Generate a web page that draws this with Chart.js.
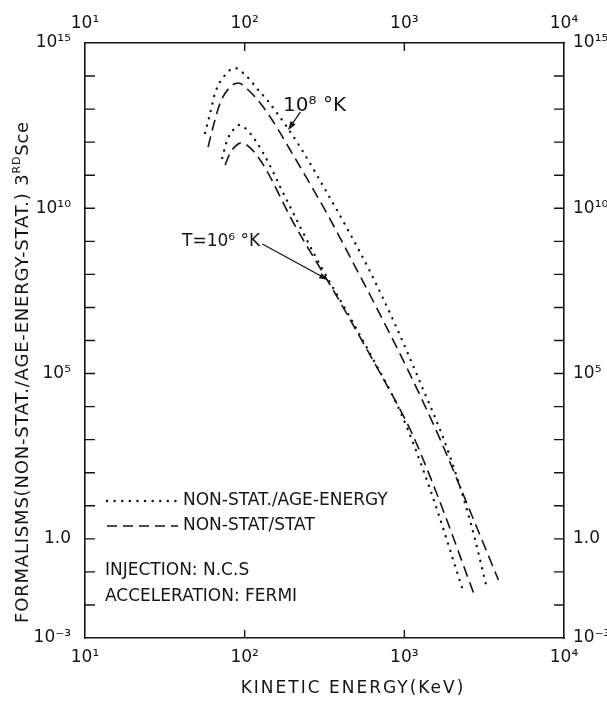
<!DOCTYPE html>
<html>
<head>
<meta charset="utf-8">
<script src="https://cdn.jsdelivr.net/npm/chart.js@4.4.1/dist/chart.umd.min.js"></script>
<style>
  html, body { margin: 0; padding: 0; background: #fff; }
  canvas { display: block; }
</style>
</head>
<body>
<canvas id="chart" width="607" height="702"></canvas>
<script>
const FONT = '"DejaVu Sans", "Liberation Sans", sans-serif';
const INK = '#151515';

// T = 1e8 K, non-stat / age-energy (dotted)
const hotEnergyDotted = [56.5, 60.8, 65.3, 75.4, 87.2, 97.9, 108.3, 121.5, 138.4, 157.6, 182, 222.8, 297.4, 426.7, 612, 878, 1260, 1888, 2594, 3314];
const hotRatioDotted = [1.9e12, 7.6e12, 3.1e13, 1.08e14, 1.75e14, 1.24e14, 7.6e13, 3.8e13, 1.89e13, 8.2e12, 3.1e12, 7.1e11, 6.7e10, 3.1e9, 1.18e8, 2.95e6, 5.2e4, 426, 3.24, 0.028];

// T = 1e8 K, non-stat / stat (dashed)
const hotEnergyDashed = [59, 63.4, 70.2, 81.1, 91, 108.3, 125.1, 144.5, 167, 192.9, 222.8, 329, 478.9, 707.3, 1090, 1682, 2594, 3884];
const hotRatioDashed = [7.1e11, 2.88e12, 1.53e13, 4.67e13, 6.17e13, 3.3e13, 1.53e13, 5.8e12, 1.9e12, 5.8e11, 1.77e11, 6.7e9, 2.21e8, 5.9e6, 9.1e4, 982, 6.5, 0.057];

// T = 1e6 K, non-stat / age-energy (dotted)
const coldEnergyDotted = [72.3, 77.7, 84.7, 92.4, 103.7, 116.4, 130.6, 148.7, 167, 192.9, 222.8, 276.7, 343.6, 426.7, 612, 944, 1455, 2344];
const coldRatioDotted = [3.33e11, 1.16e12, 2.33e12, 3.31e12, 2.33e12, 1.16e12, 4.7e11, 1.44e11, 4.4e10, 1.09e10, 2.72e9, 3.6e8, 5.5e7, 9.0e6, 3.9e5, 6.9e3, 30.1, 0.0248];

// T = 1e6 K, non-stat / stat (dashed)
const coldEnergyDashed = [75.4, 81.1, 91, 96.4, 108.3, 125.1, 144.5, 167, 192.9, 232.7, 289, 364, 458.5, 594.8, 793.6, 1106, 1564, 2787];
const coldRatioDashed = [2.04e11, 4.7e11, 8.8e11, 9.4e11, 6.7e11, 2.9e11, 8.9e10, 2.2e10, 5.5e9, 1.1e9, 1.93e8, 2.94e7, 4.2e6, 4.5e5, 3.7e4, 1.71e3, 30.1, 0.0163];

const xTickValues = [10, 100, 1000, 10000];
const xTickLabels = ['10¹', '10²', '10³', '10⁴'];
const yDecades = [-3, -2, -1, 0, 1, 2, 3, 4, 5, 6, 7, 8, 9, 10, 11, 12, 13, 14, 15];
const yLabelDecades = [15, 10, 5, 0, -3];
const yLabelTexts = ['10¹⁵', '10¹⁰', '10⁵', '1.0', '10⁻³'];

const toPoints = (xs, ys) => xs.map((x, i) => ({ x, y: ys[i] }));

const dotted = { borderDash: [0.1, 7.5], borderCapStyle: 'round', borderWidth: 2.4 };
const dashed = { borderDash: [11, 6], borderCapStyle: 'butt', borderWidth: 1.6 };

const lineSet = (data, style) => Object.assign({
    data,
    borderColor: INK,
    pointRadius: 0,
    fill: false,
    cubicInterpolationMode: 'monotone',
}, style);

const xLabel = (v) => {
    const i = xTickValues.findIndex(t => Math.abs(Math.log10(t) - Math.log10(v)) < 1e-6);
    return i < 0 ? '' : xTickLabels[i];
};
const yLabel = (v) => {
    const i = yLabelDecades.indexOf(Math.round(Math.log10(v)));
    return i < 0 ? '' : yLabelTexts[i];
};

const tickFont = { family: FONT, size: 17 };

const xAxis = (position, height, padding) => ({
    type: 'logarithmic',
    position,
    axis: 'x',
    min: 10,
    max: 10000,
    afterBuildTicks: (s) => { s.ticks = xTickValues.map(value => ({ value })); },
    afterFit: (s) => { s.height = height; },
    ticks: { callback: xLabel, autoSkip: false, maxRotation: 0, color: INK, font: tickFont, padding },
    grid: { drawOnChartArea: false, drawTicks: false },
    border: { color: INK, width: 1.6 },
});

const yAxis = (position, width, padding) => ({
    type: 'logarithmic',
    position,
    axis: 'y',
    min: 1e-3,
    max: 1e15,
    afterBuildTicks: (s) => { s.ticks = yDecades.map(d => ({ value: Math.pow(10, d) })); },
    afterFit: (s) => { s.width = width; },
    ticks: { callback: yLabel, autoSkip: false, color: INK, font: tickFont, padding },
    grid: { drawOnChartArea: false, drawTicks: false },
    border: { color: INK, width: 1.6 },
});

// short tick marks pointing into the frame on all four sides
const innerTicks = {
    id: 'innerTicks',
    afterDraw(chart) {
        const { ctx, chartArea: a, scales } = chart;
        ctx.save();
        ctx.strokeStyle = INK;
        ctx.lineWidth = 1.4;
        ctx.beginPath();
        scales.y.ticks.forEach(t => {
            const p = scales.y.getPixelForValue(t.value);
            if (p <= a.top + 1 || p >= a.bottom - 1) return;
            ctx.moveTo(a.left, p); ctx.lineTo(a.left + 10, p);
            ctx.moveTo(a.right, p); ctx.lineTo(a.right - 10, p);
        });
        scales.x.ticks.forEach(t => {
            const p = scales.x.getPixelForValue(t.value);
            if (p <= a.left + 1 || p >= a.right - 1) return;
            ctx.moveTo(p, a.bottom); ctx.lineTo(p, a.bottom - 8);
            ctx.moveTo(p, a.top); ctx.lineTo(p, a.top + 8);
        });
        ctx.stroke();
        ctx.restore();
    }
};

const arrow = (ctx, x0, y0, x1, y1) => {
    const ang = Math.atan2(y1 - y0, x1 - x0);
    ctx.beginPath();
    ctx.moveTo(x0, y0);
    ctx.lineTo(x1 - 6 * Math.cos(ang), y1 - 6 * Math.sin(ang));
    ctx.stroke();
    ctx.beginPath();
    ctx.moveTo(x1, y1);
    ctx.lineTo(x1 - 9 * Math.cos(ang) + 3 * Math.sin(ang), y1 - 9 * Math.sin(ang) - 3 * Math.cos(ang));
    ctx.lineTo(x1 - 9 * Math.cos(ang) - 3 * Math.sin(ang), y1 - 9 * Math.sin(ang) + 3 * Math.cos(ang));
    ctx.closePath();
    ctx.fill();
};

// labels, arrows, legend and axis titles
const decorations = {
    id: 'decorations',
    afterDraw(chart) {
        const { ctx, chartArea: a, scales: { x, y } } = chart;
        ctx.save();
        ctx.fillStyle = INK;
        ctx.strokeStyle = INK;
        ctx.lineWidth = 1.3;
        ctx.textBaseline = 'middle';

        // temperature labels, anchored in data space
        ctx.font = '20px ' + FONT;
        ctx.textAlign = 'left';
        ctx.fillText('10⁸ °K', x.getPixelForValue(174), y.getPixelForValue(1.3e13));
        arrow(ctx, x.getPixelForValue(223), y.getPixelForValue(8.1e12), x.getPixelForValue(187), y.getPixelForValue(2.3e12));

        ctx.font = '17px ' + FONT;
        ctx.textAlign = 'right';
        ctx.fillText('T=10⁶ °K', x.getPixelForValue(125), y.getPixelForValue(9.5e8));
        arrow(ctx, x.getPixelForValue(129), y.getPixelForValue(8.3e8), x.getPixelForValue(333), y.getPixelForValue(6.8e7));

        // legend block
        ctx.textAlign = 'left';
        ctx.font = '17px ' + FONT;
        const lx0 = a.left + 22, lx1 = a.left + 93, tx = a.left + 98;
        ctx.save();
        ctx.lineWidth = dotted.borderWidth;
        ctx.lineCap = 'round';
        ctx.setLineDash(dotted.borderDash);
        ctx.beginPath(); ctx.moveTo(lx0, 501); ctx.lineTo(lx1, 501); ctx.stroke();
        ctx.lineWidth = dashed.borderWidth;
        ctx.lineCap = 'butt';
        ctx.setLineDash([10, 6]);
        ctx.beginPath(); ctx.moveTo(lx0, 526); ctx.lineTo(lx1, 526); ctx.stroke();
        ctx.restore();
        ctx.fillText('NON-STAT./AGE-ENERGY', tx, 501);
        ctx.fillText('NON-STAT/STAT', tx, 526);
        ctx.fillText('INJECTION: N.C.S', a.left + 20, 571);
        ctx.fillText('ACCELERATION: FERMI', a.left + 20, 597);

        // x axis title
        ctx.font = '17px ' + FONT;
        ctx.textAlign = 'center';
        ctx.letterSpacing = '2px';
        ctx.fillText('KINETIC ENERGY(KeV)', 353, 689);

        // y axis title with superscript RD
        ctx.letterSpacing = '0.8px';
        ctx.translate(23, 372);
        ctx.rotate(-Math.PI / 2);
        ctx.textAlign = 'left';
        const parts = [
            ['FORMALISMS(NON-STAT./AGE-ENERGY-STAT.) 3', '18px ' + FONT, 0],
            ['RD', '11px ' + FONT, -6],
            ['Sce', '18px ' + FONT, 0],
        ];
        let total = 0;
        parts.forEach(p => { ctx.font = p[1]; total += ctx.measureText(p[0]).width; });
        let cx = -total / 2;
        parts.forEach(p => {
            ctx.font = p[1];
            ctx.fillText(p[0], cx, p[2]);
            cx += ctx.measureText(p[0]).width;
        });
        ctx.restore();
    }
};

new Chart(document.getElementById('chart'), {
    type: 'line',
    data: {
        datasets: [
            lineSet(toPoints(hotEnergyDotted, hotRatioDotted), dotted),
            lineSet(toPoints(hotEnergyDashed, hotRatioDashed), dashed),
            lineSet(toPoints(coldEnergyDotted, coldRatioDotted), dotted),
            lineSet(toPoints(coldEnergyDashed, coldRatioDashed), dashed),
        ],
    },
    options: {
        responsive: false,
        animation: false,
        layout: { padding: 0 },
        plugins: { legend: { display: false }, tooltip: { enabled: false } },
        scales: {
            x: xAxis('bottom', 64, 9),
            x2: xAxis('top', 43, 9),
            y: yAxis('left', 85, 14),
            y2: yAxis('right', 43, 9),
        },
    },
    plugins: [innerTicks, decorations],
});
</script>
</body>
</html>
